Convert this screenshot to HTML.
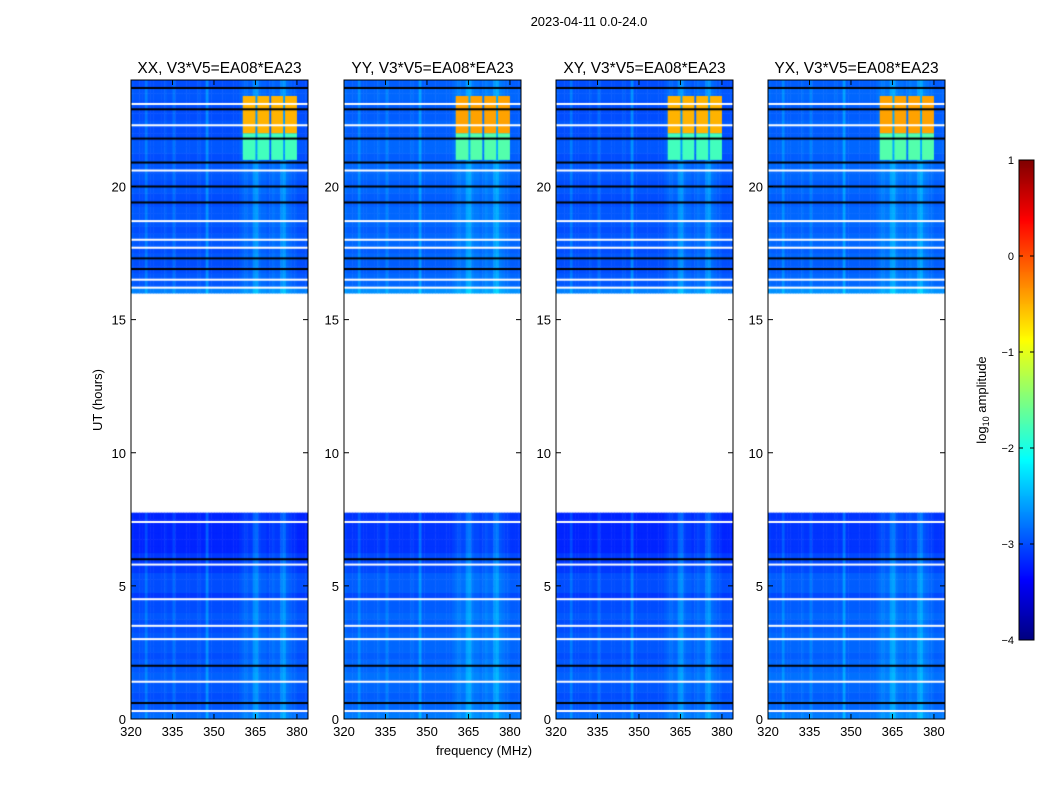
<!DOCTYPE html>
<html><head><meta charset="utf-8"><style>
body{margin:0;background:#fff;width:1050px;height:800px;overflow:hidden;position:relative;font-family:"Liberation Sans",sans-serif}
canvas{position:absolute}
svg{position:absolute;left:0;top:0}
</style></head><body>
<canvas id="c0"></canvas>
<canvas id="c1"></canvas>
<canvas id="c2"></canvas>
<canvas id="c3"></canvas>
<canvas id="cb"></canvas>
<svg id="ax" width="1050" height="800"></svg>
<script>
// ---- data ----
const panelTitles = ["XX, V3*V5=EA08*EA23","YY, V3*V5=EA08*EA23","XY, V3*V5=EA08*EA23","YX, V3*V5=EA08*EA23"];
const panelOffset = [0.0, 0.08, 0.0, 0.08];
const xTicks = [320,335,350,365,380];
const yTicks = [0,5,10,15,20];
const cbTicks = [1,0,-1,-2,-3,-4];
// row base level per 0.25 h (96 rows), null = no data
const rowLevel = [
-2.85,-2.95,-2.95,-3.0,-2.95,-2.95,-2.9,-2.95,-2.95,-3.0,-2.95,-2.95,-2.95,-3.0,-3.0,-2.95,
-3.0,-3.0,-3.1,-3.0,-3.0,-3.0,-3.1,-3.1,-3.1,-3.2,-3.2,-3.2,-3.2,-3.2,-3.2,null,
null,null,null,null,null,null,null,null,null,null,null,null,null,null,null,null,
null,null,null,null,null,null,null,null,null,null,null,null,null,null,null,null,
-2.75,-2.95,-2.95,-3.0,-3.0,-2.95,-3.0,-2.95,-2.95,-3.0,-2.95,-2.95,-2.95,-3.0,-3.0,-2.95,
-3.0,-2.95,-2.95,-2.95,-3.0,-2.95,-2.95,-3.0,-3.0,-2.95,-3.0,-3.0,-3.0,-2.95,-2.95,-3.0];
// channel offsets, 64 channels 320..383 MHz
const colOffset = [
0.05,0,0,0,0,0.2,0,0,0,0,0,0,0.05,0,0,0.15,
0,0,0,0,0,0,0,0,0.05,0,0,0.3,0,0,0,0,
0,0,0,0,0,0,0,0.05,0.1,0.15,0.1,0.1,0.3,0.35,0.15,0.1,
0.1,0.05,0.1,0.15,0.1,0.1,0.3,0.35,0.15,0.1,0.05,0.05,0,0,0,0];
// RFI blocks
const rfiFreq = [[360.4,365],[365.7,370],[370.7,375],[375.7,380]];
const rfiStart = [21.0, 22.0];
const rfiEnd   = [22.0, 23.4];
const rfiValue = [-1.8, -0.5];
// flagged (white) and black lines, hours
const whiteLines = [0.3,1.4,3.0,3.5,4.5,5.8,7.4,16.2,16.5,17.7,18.0,18.7,20.6,22.3,23.1];
const blackLines = [0.6,2.0,6.0,16.9,17.3,19.4,20.0,20.9,21.8,22.9,23.7];

// ---- layout ----
const panelX = [131,344,556,768], panelW = 177, top0 = 80, bot0 = 719;
const f0 = 320, f1 = 384, t0 = 0, t1 = 24;
const vmin = -4, vmax = 1;
function xS(p,f){return panelX[p] + (f-f0)/(f1-f0)*panelW;}
function yS(t){return bot0 - (t-t0)/(t1-t0)*(bot0-top0);}
function jet(v){
  let x=(v-vmin)/(vmax-vmin); x=Math.max(0,Math.min(1,x));
  const c=q=>Math.round(255*Math.max(0,Math.min(1,q)));
  const r=c(Math.min(4*x-1.5,-4*x+4.5)), g=c(Math.min(4*x-0.5,-4*x+3.5)), b=c(Math.min(4*x+0.5,-4*x+2.5));
  return `rgb(${r},${g},${b})`;
}
for(let p=0;p<4;p++){
  const cv=document.getElementById('c'+p);
  cv.width=panelW; cv.height=bot0-top0;
  cv.style.left=panelX[p]+'px'; cv.style.top=top0+'px';
  const ctx=cv.getContext('2d');
  for(let i=0;i<rowLevel.length;i++){
    if(rowLevel[i]===null) continue;
    const ta=i*0.25, tb=ta+0.25;
    for(let j=0;j<colOffset.length;j++){
      const fa=f0+j, fb=fa+1;
      let v=rowLevel[i]+colOffset[j]+panelOffset[p];
      ctx.fillStyle=jet(v);
      const x=xS(p,fa)-panelX[p], y=yS(tb)-top0;
      ctx.fillRect(x,y,xS(p,fb)-xS(p,fa)+0.5,yS(ta)-yS(tb)+0.5);
    }
  }
  for(let k=0;k<rfiFreq.length;k++) for(let m=0;m<rfiStart.length;m++){
    ctx.fillStyle=jet(rfiValue[m]+panelOffset[p]);
    const x=xS(p,rfiFreq[k][0])-panelX[p], y=yS(rfiEnd[m])-top0;
    ctx.fillRect(x,y,xS(p,rfiFreq[k][1])-xS(p,rfiFreq[k][0]),yS(rfiStart[m])-yS(rfiEnd[m]));
  }
  ctx.fillStyle='#fff';
  whiteLines.forEach(t=>ctx.fillRect(0,yS(t)-top0-1,panelW,2));
  ctx.fillStyle='#000';
  blackLines.forEach(t=>ctx.fillRect(0,yS(t)-top0-1,panelW,2));
}
// colorbar
const cb=document.getElementById('cb');
const cbX=1019,cbY=160,cbW=15,cbH=480;
cb.width=cbW;cb.height=cbH;cb.style.left=cbX+'px';cb.style.top=cbY+'px';
const cctx=cb.getContext('2d');
for(let y=0;y<cbH;y++){cctx.fillStyle=jet(vmax-(y+0.5)/cbH*(vmax-vmin));cctx.fillRect(0,y,cbW,1);}

const svg=document.getElementById('ax');
const NS='http://www.w3.org/2000/svg';
function mk(tag,attrs,text,name){
  const e=document.createElementNS(NS,tag);
  for(const k in attrs)e.setAttribute(k,attrs[k]);
  if(text!==undefined)e.textContent=text;
  
  
  svg.appendChild(e);return e;
}
mk('text',{x:589,y:26,'text-anchor':'middle','font-size':13},'2023-04-11 0.0-24.0','suptitle');
for(let p=0;p<4;p++){
  const L=panelX[p],R=L+panelW;
  mk('rect',{x:L,y:top0,width:panelW,height:bot0-top0,fill:'none',stroke:'#000','stroke-width':1},undefined,'panel-frame');
  mk('text',{x:L+panelW/2,y:73,'text-anchor':'middle','font-size':15.5},panelTitles[p],'panel-title');
  xTicks.forEach(f=>{const x=xS(p,f);
    mk('line',{x1:x,x2:x,y1:bot0,y2:bot0-5,stroke:'#000'},undefined,'x-tick');
    mk('line',{x1:x,x2:x,y1:top0,y2:top0+5,stroke:'#000'},undefined,'x-tick');
    mk('text',{x:x,y:bot0+17,'text-anchor':'middle','font-size':13},String(f),'x-tick-label');});
  yTicks.forEach(t=>{const y=yS(t);
    mk('line',{x1:L,x2:L+5,y1:y,y2:y,stroke:'#000'},undefined,'y-tick');
    mk('line',{x1:R,x2:R-5,y1:y,y2:y,stroke:'#000'},undefined,'y-tick');
    mk('text',{x:L-5,y:y+5,'text-anchor':'end','font-size':13},String(t),'y-tick-label');});
}
mk('text',{x:484,y:755,'text-anchor':'middle','font-size':13},'frequency (MHz)','x-axis-title');
mk('text',{x:102,y:400,'text-anchor':'middle','font-size':13,transform:'rotate(-90 102 400)'},'UT (hours)','y-axis-title');
mk('rect',{x:cbX,y:cbY,width:cbW,height:cbH,fill:'none',stroke:'#000'},undefined,'colorbar-frame');
cbTicks.forEach(v=>{const y=cbY+(vmax-v)/(vmax-vmin)*cbH;
  mk('line',{x1:cbX,x2:cbX+4,y1:y,y2:y,stroke:'#000'},undefined,'colorbar-tick');
  mk('line',{x1:cbX+cbW,x2:cbX+cbW-4,y1:y,y2:y,stroke:'#000'},undefined,'colorbar-tick');
  mk('text',{x:cbX-5,y:y+4,'text-anchor':'end','font-size':11},v<0?'\u2212'+(-v):String(v),'colorbar-tick-label');});
const lab=mk('text',{x:986,y:400,'text-anchor':'middle','font-size':13,transform:'rotate(-90 986 400)'},undefined,'colorbar-title');
lab.innerHTML='log<tspan font-size="9" dy="3">10</tspan><tspan dy="-3"> amplitude</tspan>';
</script>
</body></html>
